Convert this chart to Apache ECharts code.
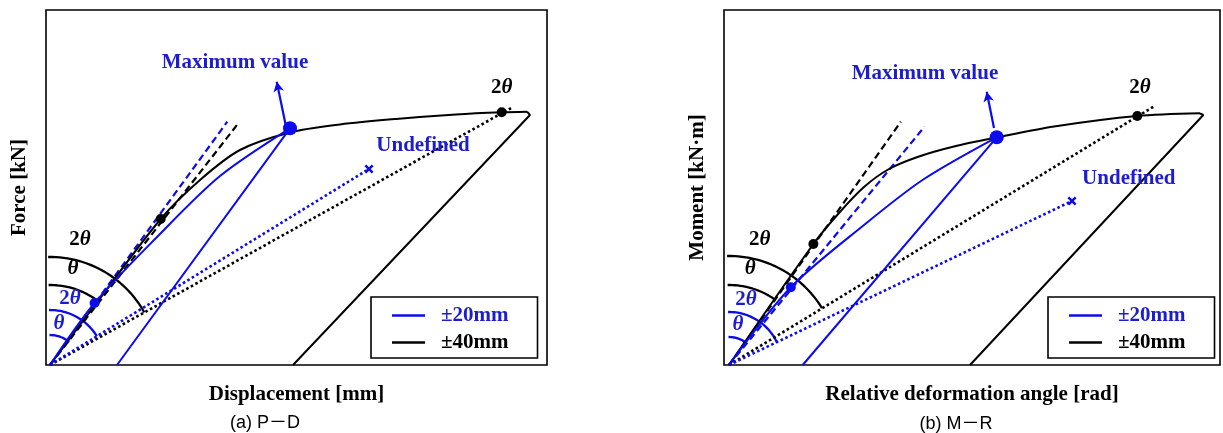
<!DOCTYPE html>
<html><head><meta charset="utf-8">
<script src="https://cdn.jsdelivr.net/npm/echarts@6/dist/echarts.min.js"></script>
<style>html,body{margin:0;padding:0;background:#fff}#c{width:1223px;height:433px}</style>
</head><body><div id="c"></div>
<script>
// ---------- text ----------
const xTitles = ['Displacement [mm]', 'Relative deformation angle [rad]'];
const yTitles = ['Force [kN]', 'Moment [kN·m]'];
const captions = ['(a) P－D', '(b) M－R'];
const legendNames = ['±20mm', '±40mm'];
const maxText = 'Maximum value';
const undefText = 'Undefined';

// ---------- panel (a) P-D (schematic units) ----------
const pdLoad40   = [[4,0],[49,60],[114.7,146],[154,185],[194,215],[244,232.5],[294,240.5],[350,246],[410,250.5],[455.7,252.7],[481,253.3]];
const pdUnload40 = [[481,253.3],[484,250],[247,0]];
const pdLoad20   = [[4,0],[48.6,62],[110,127],[174,189],[244,236.7]];
const pdUnload20 = [[244,236.7],[71,0]];
const pdTangent40 = [[4,0],[192.3,241.7]];
const pdTangent20 = [[4,0],[181.3,243.3]];
const pdSecant40  = [[4,0],[467,258]];
const pdSecant20  = [[4,0],[323,196]];
const pdDots40    = [[114.7,146],[455.7,252.7]];
const pdDot20     = [[48.6,62]];
const pdMax20     = [[244,236.7]];
const pdUndef20   = [[323,196]];
const pdArrow     = [[239.7,240],[230.7,283.3]];

// ---------- panel (b) M-R ----------
const mrLoad40   = [[5,0],[89.4,121],[115,152],[140,178],[165,196],[195,208.5],[230,218.5],[272.7,227.5],[330,238.5],[413.3,249],[476,251.7]];
const mrUnload40 = [[476,251.7],[479.3,250],[246,0]];
const mrLoad20   = [[5,0],[66.8,77.7],[140,140],[200,186],[272.7,227.7]];
const mrUnload20 = [[272.7,227.7],[78.7,0]];
const mrTangent40 = [[5,0],[176.9,243.3]];
const mrTangent20 = [[5,0],[200.5,238.3]];
const mrSecant40  = [[5,0],[430.6,259]];
const mrSecant20  = [[5,0],[348,164]];
const mrDots40    = [[89.4,121],[413.3,249]];
const mrDot20     = [[66.8,77.7]];
const mrMax20     = [[272.7,227.7]];
const mrUndef20   = [[348,164]];
const mrArrow     = [[270,237],[262.7,273.3]];

// ---------- styles ----------
const SERIF = '"Liberation Serif","Times New Roman",serif';
const BLUE = '#0b0bee';
const BLUE_T = '#1c1cd0';
const BLACK = '#000';

function arc(cx, cy, r, a0, a1) {
  const pts = [];
  const n = 60;
  for (let i = 0; i <= n; i++) {
    const a = (a0 + (a1 - a0) * i / n) * Math.PI / 180;
    pts.push([cx + r * Math.cos(a), cy + r * Math.sin(a)]);
  }
  return pts;
}

function lineS(gi, data, color, opts) {
  opts = opts || {};
  return Object.assign({
    type: 'line', xAxisIndex: gi, yAxisIndex: gi, data: data,
    showSymbol: false, symbol: 'none', silent: true,
    smooth: opts.smooth ? 0.3 : false,
    itemStyle: { color: color },
    lineStyle: { color: color, width: opts.width || 2, type: opts.type || 'solid', cap: 'butt' },
    z: opts.z || 3
  }, opts.name ? { name: opts.name } : {});
}

function dots(gi, data, color, size, extra) {
  return Object.assign({
    type: 'scatter', xAxisIndex: gi, yAxisIndex: gi, data: data,
    symbol: 'circle', symbolSize: size, silent: true,
    itemStyle: { color: color, opacity: 1 }, z: 6
  }, extra || {});
}

function textS(gi, items) {
  return {
    type: 'scatter', xAxisIndex: gi, yAxisIndex: gi, symbolSize: 1, silent: true,
    itemStyle: { color: 'rgba(0,0,0,0)', opacity: 1 }, z: 10,
    data: items.map(it => ({
      value: [it[0], it[1]],
      label: {
        show: true, position: 'inside', opacity: 1,
        formatter: it[2],
        color: it[3],
        fontFamily: SERIF, fontWeight: 'bold', fontSize: 21,
        rich: {
          n: { fontFamily: SERIF, fontWeight: 'bold', fontSize: 21, color: it[3] },
          t: { fontFamily: SERIF, fontWeight: 'bold', fontStyle: 'italic', fontSize: 21, color: it[3] }
        }
      }
    }))
  };
}

const twoTheta = '{n|2}{t|θ}';
const theta = '{t|θ}';

function panel(gi, P) {
  const s = [];
  P.arcs.forEach(a => s.push(lineS(gi, arc(P.o[0], P.o[1], a.r, 91, a.to), a.c, { width: 2.3 })));
  s.push(lineS(gi, P.secant40, BLACK, { width: 2.6, type: [2.6, 2.6] }));
  s.push(lineS(gi, P.secant20, BLUE, { width: 2.6, type: [2.6, 2.6] }));
  s.push(lineS(gi, P.tangent40, BLACK, { width: 2.2, type: [7, 4] }));
  s.push(lineS(gi, P.tangent20, BLUE, { width: 2.2, type: [7, 4] }));
  s.push(lineS(gi, P.load40, BLACK, { name: legendNames[1], smooth: true, width: 2 }));
  s.push(lineS(gi, P.unload40, BLACK, { name: legendNames[1], width: 2 }));
  s.push(lineS(gi, P.load20, BLUE, { name: legendNames[0], smooth: true, width: 2 }));
  s.push(lineS(gi, P.unload20, BLUE, { name: legendNames[0], width: 2 }));
  s.push(dots(gi, P.dots40, BLACK, 10));
  s.push(dots(gi, P.dot20, BLUE, 10));
  s.push(dots(gi, P.max20, BLUE, 14, {
    markLine: {
      silent: true, animation: false, symbol: ['none', 'arrow'], symbolSize: [8, 10],
      label: { show: false },
      lineStyle: { color: BLUE, width: 2.2, type: 'solid', opacity: 1 },
      data: [[{ coord: P.arrow[0] }, { coord: P.arrow[1] }]]
    }
  }));
  s.push(dots(gi, P.undef20, BLUE, 9, {
    symbol: 'path://M2,0L5,3L8,0L10,2L7,5L10,8L8,10L5,7L2,10L0,8L3,5L0,2Z'
  }));
  s.push(textS(gi, P.texts));
  return s;
}

const panels = [
  {
    o: [4, 0],
    arcs: [{ r: 108, to: 29.2, c: BLACK }, { r: 80, to: 52.8, c: BLACK }, { r: 55, to: 31.6, c: BLUE }, { r: 30, to: 50, c: BLUE }],
    load40: pdLoad40, unload40: pdUnload40, load20: pdLoad20, unload20: pdUnload20,
    tangent40: pdTangent40, tangent20: pdTangent20, secant40: pdSecant40, secant20: pdSecant20,
    dots40: pdDots40, dot20: pdDot20, max20: pdMax20, undef20: pdUndef20, arrow: pdArrow,
    texts: [
      [189, 302.3, maxText, BLUE_T],
      [455.7, 277, twoTheta, BLACK],
      [377, 219, undefText, BLUE_T],
      [34, 125, twoTheta, BLACK],
      [27, 96, theta, BLACK],
      [24, 66.5, twoTheta, BLUE_T],
      [13, 41, theta, BLUE_T]
    ]
  },
  {
    o: [5, 0],
    arcs: [{ r: 109, to: 31.4, c: BLACK }, { r: 80, to: 55.1, c: BLACK }, { r: 53, to: 25.6, c: BLUE }, { r: 28, to: 52, c: BLUE }],
    load40: mrLoad40, unload40: mrUnload40, load20: mrLoad20, unload20: mrUnload20,
    tangent40: mrTangent40, tangent20: mrTangent20, secant40: mrSecant40, secant20: mrSecant20,
    dots40: mrDots40, dot20: mrDot20, max20: mrMax20, undef20: mrUndef20, arrow: mrArrow,
    texts: [
      [201, 291.7, maxText, BLUE_T],
      [416, 277, twoTheta, BLACK],
      [404.8, 186.7, undefText, BLUE_T],
      [35.6, 125, twoTheta, BLACK],
      [26.3, 96.7, theta, BLACK],
      [22, 65, twoTheta, BLUE_T],
      [14, 40, theta, BLUE_T]
    ]
  }
];

const grids = [
  { left: 46, top: 10, width: 501, height: 355 },
  { left: 724, top: 10, width: 496, height: 355 }
];

const axisCommon = {
  type: 'value', min: 0, axisLine: { show: false }, axisTick: { show: false },
  axisLabel: { show: false }, splitLine: { show: false },
  nameLocation: 'middle',
  nameTextStyle: { fontFamily: SERIF, fontWeight: 'bold', fontSize: 21, color: '#000' }
};

const chart = echarts.init(document.getElementById('c'), null, { renderer: 'canvas' });
chart.setOption({
  animation: false,
  backgroundColor: '#fff',
  grid: grids.map(g => Object.assign({ show: true, borderColor: '#000', borderWidth: 1.6, backgroundColor: 'transparent' }, g)),
  xAxis: grids.map((g, i) => Object.assign({}, axisCommon, { gridIndex: i, max: g.width, name: xTitles[i], nameGap: 19 })),
  yAxis: grids.map((g, i) => Object.assign({}, axisCommon, { gridIndex: i, max: g.height, name: yTitles[i], nameGap: 16 })),
  legend: [
    { left: 371, top: 297 },
    { left: 1048, top: 297 }
  ].map(p => ({
    left: p.left, top: p.top, orient: 'vertical', selectedMode: false,
    borderColor: '#000', borderWidth: 1.6, padding: [8, 29, 5, 21], itemGap: 6,
    icon: 'rect', itemWidth: 33, itemHeight: 2.5,
    textStyle: { fontFamily: SERIF, fontWeight: 'bold', fontSize: 21, lineHeight: 21, padding: [0, 0, 0, 11] },
    data: [
      { name: legendNames[0], textStyle: { color: BLUE_T } },
      { name: legendNames[1], textStyle: { color: '#000' } }
    ]
  })),
  graphic: [
    { type: 'text', x: 265, y: 423, style: { text: captions[0], textAlign: 'center', textVerticalAlign: 'middle', font: '18px "Liberation Sans","Noto Sans CJK JP",sans-serif', fill: '#000' } },
    { type: 'text', x: 956, y: 424, style: { text: captions[1], textAlign: 'center', textVerticalAlign: 'middle', font: '18px "Liberation Sans","Noto Sans CJK JP",sans-serif', fill: '#000' } }
  ],
  series: [].concat(panel(0, panels[0]), panel(1, panels[1]))
});
</script></body></html>
